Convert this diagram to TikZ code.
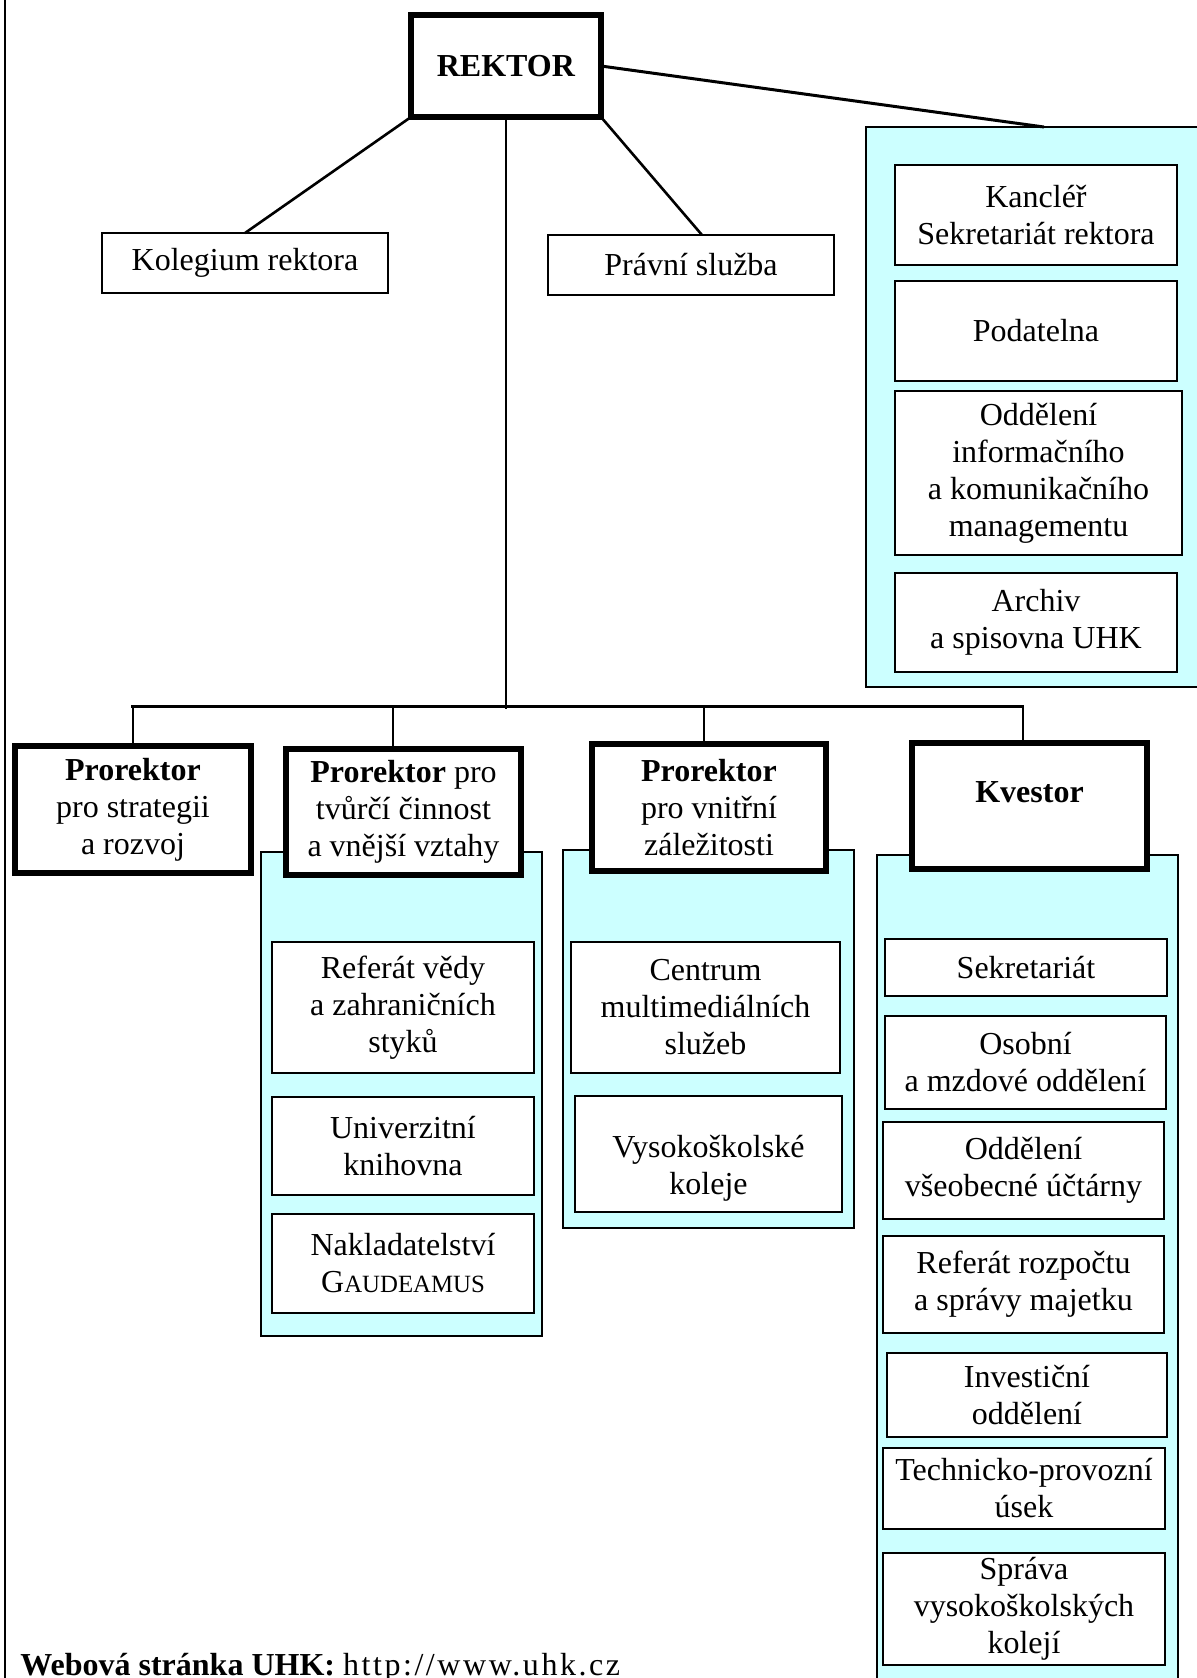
\documentclass[tikz,border=0pt]{standalone}
\usepackage{fontspec}
\setmainfont{Liberation Serif}
\usetikzlibrary{calc}
\definecolor{cyanbg}{RGB}{204,255,255}
\newcommand\mainsz{\fontsize{16}{18.5}\selectfont}
\newcommand\smallcapsz{\fontsize{12.4}{18.5}\selectfont}
% box node from pixel corners: style, name, x1, y1, x2, y2, text
\newcommand\boxnode[7]{%
  \pgfmathsetmacro\bxcx{(#3+#5)/2}%
  \pgfmathsetmacro\bxcy{(#4+#6)/2}%
  \pgfmathsetmacro\bxw{(#5-#3)*0.5}%
  \pgfmathsetmacro\bxh{(#6-#4)*0.5}%
  \node[#1, minimum width=\bxw pt, minimum height=\bxh pt] (#2) at (\bxcx,\bxcy) {#7};}
\begin{document}
\begin{tikzpicture}[x=0.5pt,y=-0.5pt,
  box/.style={draw, line width=1pt, fill=white, inner sep=0pt, outer sep=0pt, align=center, font=\mainsz},
  thickbox/.style={box, line width=2.6pt},
  panel/.style={draw, line width=1pt, fill=cyanbg, inner sep=0pt, outer sep=0pt},
  conn/.style={line width=1.3pt},
  boxtext/.style={align=center, font=\mainsz, inner sep=0pt},
]
\useasboundingbox (0,0) rectangle (1197,1678);
% page frame line on the left
\draw[line width=1pt] (5,0) -- (5,1678);

% cyan panels
\boxnode{panel}{cy1}{866}{127}{1222}{687}{}
\boxnode{panel}{cy2}{261}{852}{542}{1336}{}
\boxnode{panel}{cy3}{563}{850}{854}{1228}{}
\boxnode{panel}{cy4}{877}{855}{1178}{1700}{}

% top level
\boxnode{thickbox}{rek}{411}{15}{601}{117}{\textbf{REKTOR}}
\boxnode{box}{kol}{102}{233}{388}{293}{Kolegium rektora}
\boxnode{box}{prav}{548}{235}{834}{295}{Právní služba}

% right panel boxes
\boxnode{box}{kanc}{895}{165}{1177}{265}{Kancléř\\Sekretariát rektora}
\boxnode{box}{podat}{895}{281}{1177}{381}{Podatelna}
\boxnode{box}{oikm}{895}{391}{1182}{555}{Oddělení\\informačního\\a komunikačního\\managementu}
\boxnode{box}{arch}{895}{573}{1177}{672}{Archiv\\a spisovna UHK}

% second level
\boxnode{thickbox}{p1}{15}{746}{251}{873}{\textbf{Prorektor}\\pro strategii\\a rozvoj}
\boxnode{thickbox}{p2}{286}{749}{521}{875}{\textbf{Prorektor} pro\\tvůrčí činnost\\a vnější vztahy}
\boxnode{thickbox}{p3}{592}{744}{826}{871}{\textbf{Prorektor}\\pro vnitřní\\záležitosti}
\boxnode{thickbox, label={[boxtext, yshift=7pt]center:\textbf{Kvestor}}}{kv}{912}{743}{1147}{869}{}

% prorektor 2 units
\boxnode{box}{rvz}{272}{942}{534}{1073}{Referát vědy\\a zahraničních\\styků}
\boxnode{box}{uk}{272}{1097}{534}{1195}{Univerzitní\\knihovna}
\boxnode{box}{nakl}{272}{1214}{534}{1313}{Nakladatelství\\G{\smallcapsz AUDEAMUS}}

% prorektor 3 units
\boxnode{box}{cms}{571}{942}{840}{1073}{Centrum\\multimediálních\\služeb}
\boxnode{box, label={[boxtext, yshift=-7pt]center:Vysokoškolské\\koleje}}{vk}{575}{1096}{842}{1212}{}

% kvestor units
\boxnode{box}{sekr}{885}{939}{1167}{996}{Sekretariát}
\boxnode{box}{omo}{885}{1016}{1166}{1109}{Osobní\\a mzdové oddělení}
\boxnode{box}{ovu}{883}{1122}{1164}{1219}{Oddělení\\všeobecné účtárny}
\boxnode{box}{rrsm}{883}{1236}{1164}{1333}{Referát rozpočtu\\a správy majetku}
\boxnode{box}{io}{887}{1353}{1167}{1437}{Investiční\\oddělení}
\boxnode{box}{tpu}{883}{1448}{1165}{1529}{Technicko-provozní\\úsek}
\boxnode{box}{svk}{883}{1553}{1165}{1665}{Správa\\vysokoškolských\\kolejí}

% connectors from rektor
\draw[conn] (rek.south west) -- (kol.north);
\draw[conn] (rek.south east) -- ($(prav.north)+(11,0)$);
\draw[conn, line width=1.5pt] (rek.east) -- (cy1.north);
\coordinate (hub) at (506,709);
\draw[conn] (rek.south) -- (hub);

% horizontal bar and drops
\coordinate (bl) at (131,706);
\coordinate (br) at (1024,706);
\draw[conn, line width=1.5pt] (bl) -- (br);
\coordinate (d1) at (133,706);
\coordinate (d2) at (393,706);
\coordinate (d3) at (704,706);
\coordinate (d4) at (1023,706);
\draw[conn] (d1) -- (d1 |- p1.north);
\draw[conn] (d2) -- (d2 |- p2.north);
\draw[conn] (d3) -- (d3 |- p3.north);
\draw[conn] (d4) -- (d4 |- kv.north);

% footer
\node[anchor=base west, inner sep=0pt, font=\mainsz] (web) at (20,1675) {\textbf{Webová stránka UHK:} {\addfontfeature{LetterSpace=8}http://www.uhk.cz}};
\end{tikzpicture}
\end{document}
